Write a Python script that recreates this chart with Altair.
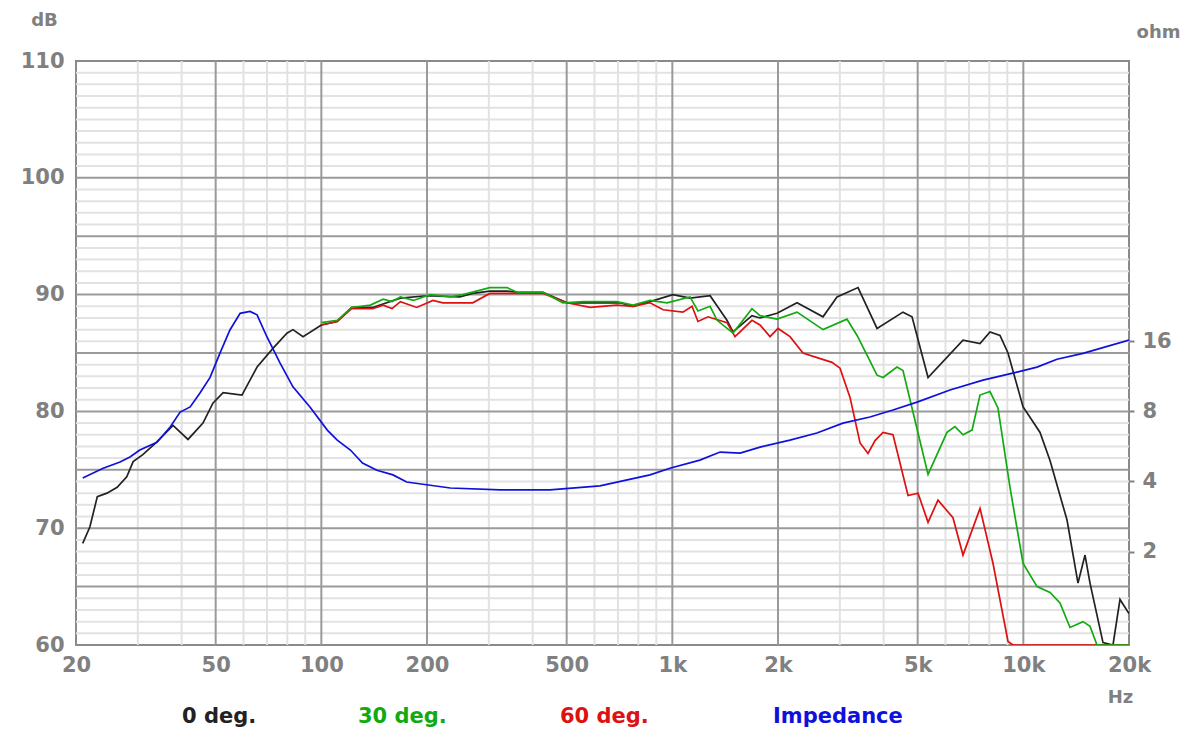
import altair as alt
import pandas as pd

# ---------------- data ----------------
freq0 = [20.9, 21.9, 23.0, 24.5, 26.2, 27.9, 29.1, 31.0, 34.0, 37.8, 41.7, 46.0, 49.1, 52.5, 59.4,
         65.6, 72.8, 79.8, 83.0, 88.7, 100, 111, 122, 140, 168, 200, 248, 270, 302, 338, 361, 428,
         501, 594, 709, 773, 864, 1004, 1123, 1281, 1431, 1489, 1686, 1777, 1987, 2266, 2687, 2946,
         3381, 3830, 4540, 4818, 5352, 6731, 7526, 8035, 8580, 9043, 9977, 11157, 11912, 13318,
         14312, 14986, 15486, 16864, 18006, 18854, 20000]
db0 = [68.7, 70.1, 72.7, 73.0, 73.5, 74.4, 75.7, 76.3, 77.4, 78.8, 77.6, 79.0, 80.7, 81.6, 81.4,
       83.8, 85.4, 86.7, 87.0, 86.4, 87.4, 87.7, 88.9, 88.9, 89.7, 89.9, 89.8, 90.1, 90.3, 90.3, 90.2,
       90.2, 89.3, 89.3, 89.3, 89.0, 89.4, 90.0, 89.7, 89.9, 87.8, 86.8, 88.2, 88.0, 88.4, 89.3, 88.1,
       89.8, 90.6, 87.1, 88.5, 88.1, 82.9, 86.1, 85.8, 86.8, 86.5, 85.0, 80.4, 78.2, 75.8, 70.7,
       65.3, 67.7, 65.3, 60.2, 60.0, 63.9, 62.7]

freq30 = [100, 111, 122, 138, 150, 159, 168, 183, 204, 233, 253, 302, 338, 361, 428, 488, 557, 695,
          773, 864, 966, 1123, 1183, 1281, 1341, 1489, 1686, 1777, 1987, 2266, 2687, 3144, 3360,
          3830, 3984, 4365, 4540, 5352, 6060, 6386, 6731, 7142, 7526, 8035, 8467, 9162, 9977,
          10940, 11912, 12718, 13582, 14790, 15486, 16212, 20000]
db30 = [87.6, 87.8, 88.9, 89.1, 89.6, 89.4, 89.8, 89.5, 90.0, 89.8, 90.0, 90.6, 90.6, 90.2, 90.2,
        89.3, 89.4, 89.4, 89.1, 89.5, 89.3, 89.8, 88.6, 89.0, 87.8, 86.7, 88.8, 88.2, 87.9, 88.5,
        87.0, 87.9, 86.5, 83.1, 82.9, 83.8, 83.5, 74.6, 78.2, 78.7, 78.0, 78.4, 81.4, 81.7, 80.3,
        73.5, 67.0, 65.0, 64.5, 63.6, 61.5, 62.0, 61.6, 60.0, 60.0]

freq60 = [100, 111, 122, 140, 150, 159, 168, 187, 208, 222, 270, 302, 338, 428, 501, 583, 695, 773,
          864, 941, 1072, 1138, 1183, 1264, 1431, 1509, 1686, 1777, 1898, 2000, 2164, 2356, 2584,
          2850, 3004, 3208, 3426, 3610, 3780, 3984, 4253, 4693, 5012, 5352, 5712, 6303, 6731, 7526,
          8194, 9043, 9343, 20000]
db60 = [87.4, 87.7, 88.8, 88.8, 89.1, 88.8, 89.4, 88.9, 89.5, 89.3, 89.3, 90.1, 90.1, 90.1, 89.3,
        88.9, 89.1, 89.0, 89.3, 88.7, 88.5, 89.0, 87.7, 88.1, 87.6, 86.4, 87.8, 87.4, 86.4, 87.1,
        86.4, 85.0, 84.6, 84.2, 83.7, 81.2, 77.3, 76.4, 77.5, 78.2, 78.0, 72.8, 73.0, 70.5, 72.4,
        70.9, 67.7, 71.7, 67.0, 60.3, 60.0, 60.0]

freqZ = [20.9, 23.9, 26.7, 28.5, 30.4, 34.0, 37.1, 39.6, 42.3, 45.1, 48.2, 51.4, 54.9, 58.7, 62.6,
         65.6, 70.0, 76.3, 83.0, 92.8, 104, 111, 121, 131, 144, 160, 175, 233, 323, 448, 622, 864,
         984, 1198, 1368, 1560, 1778, 2163, 2582, 3062, 3656, 4252, 4980, 6180, 7674, 9594, 10940,
         12470, 14790, 20000]
ohmZ = [4.14, 4.56, 4.85, 5.10, 5.46, 5.90, 6.86, 7.95, 8.36, 9.59, 11.2, 14.2, 17.9, 21.1, 21.5,
        20.8, 16.7, 12.9, 10.2, 8.36, 6.65, 6.02, 5.46, 4.80, 4.47, 4.27, 3.98, 3.75, 3.68, 3.68,
        3.83, 4.27, 4.56, 4.94, 5.35, 5.30, 5.62, 6.02, 6.46, 7.12, 7.57, 8.11, 8.77, 9.89, 10.9,
        11.8, 12.4, 13.4, 14.2, 16.2]

series_names = ["0 deg.", "30 deg.", "60 deg.", "Impedance"]

x_ticks = [20, 50, 100, 200, 500, 1000, 2000, 5000, 10000, 20000]
db_ticks = [60, 70, 80, 90, 100, 110]
ohm_ticks = [2, 4, 8, 16]
grid_x_major = [50, 100, 200, 500, 1000, 2000, 5000, 10000]
grid_x_minor = [30, 40, 60, 70, 80, 90, 300, 400, 600, 700, 800, 900,
                3000, 4000, 6000, 7000, 8000, 9000]
grid_y_major = [65, 70, 75, 80, 85, 90, 95, 100]
grid_y_minor = [v for v in range(61, 110) if v not in grid_y_major]

# ---------------- styling ----------------
FONT = "DejaVu Sans"
GRAY = "#808080"
C_BLACK = "#222222"
C_GREEN = "#11aa11"
C_RED = "#dd1111"
C_BLUE = "#1010dd"

axis_common = dict(grid=False, domain=False, labelFont=FONT, labelFontSize=21,
                   labelFontWeight="bold", labelColor=GRAY, titleFont=FONT,
                   titleFontSize=18, titleFontWeight="bold", titleColor=GRAY,
                   titleAngle=0, titleAlign="center", titleBaseline="middle",
                   labelOverlap=False)

x_enc = alt.X("f:Q",
              scale=alt.Scale(type="log", domain=[20, 20000], nice=False),
              axis=alt.Axis(values=x_ticks, ticks=False, labelPadding=9, labelFlush=False,
                            labelExpr="datum.value >= 1000 ? (datum.value/1000) + 'k' : '' + datum.value",
                            title="Hz", titleX=1044, titleY=52, **axis_common))

y_enc = alt.Y("db:Q",
              scale=alt.Scale(domain=[60, 110], nice=False, zero=False),
              axis=alt.Axis(values=db_ticks, ticks=False, labelPadding=12, orient="left",
                            title="dB", titleX=-32, titleY=-41, **axis_common))

z_enc = alt.Y("ohm:Q",
              scale=alt.Scale(type="log", base=2, domain=[0.7937, 256], nice=False),
              axis=alt.Axis(values=ohm_ticks, orient="right", ticks=True, tickSize=5,
                            tickWidth=2, tickColor=GRAY, labelPadding=8,
                            title="ohm", titleX=29, titleY=-29, **axis_common))

# ---------------- grid ----------------
vminor = alt.Chart(pd.DataFrame({"f": grid_x_minor})).mark_rule(
    color="#e2e2e2", strokeWidth=2).encode(x=x_enc)
hminor = alt.Chart(pd.DataFrame({"db": grid_y_minor})).mark_rule(
    color="#e2e2e2", strokeWidth=2).encode(y=y_enc)
vmajor = alt.Chart(pd.DataFrame({"f": grid_x_major})).mark_rule(
    color="#9a9a9a", strokeWidth=2).encode(x=x_enc)
hmajor = alt.Chart(pd.DataFrame({"db": grid_y_major})).mark_rule(
    color="#9a9a9a", strokeWidth=2).encode(y=y_enc)

# ---------------- curves ----------------
def curve(freqs, vals, color):
    df = pd.DataFrame({"f": freqs, "db": vals})
    return alt.Chart(df).mark_line(color=color, strokeWidth=1.7, clip=True).encode(
        x=x_enc, y=y_enc, order="f:Q")

line0 = curve(freq0, db0, C_BLACK)
line60 = curve(freq60, db60, C_RED)
line30 = curve(freq30, db30, C_GREEN)

db_layer = alt.layer(vminor, hminor, vmajor, hmajor, line0, line60, line30)

imp_line = alt.Chart(pd.DataFrame({"f": freqZ, "ohm": ohmZ})).mark_line(
    color=C_BLUE, strokeWidth=1.7, clip=True).encode(x=x_enc, y=z_enc, order="f:Q")

# ---------------- legend (text row under the plot) ----------------
legend_x = [106, 282, 484, 697]
legend_colors = [C_BLACK, C_GREEN, C_RED, C_BLUE]
legend_layers = []
for name, lx, col in zip(series_names, legend_x, legend_colors):
    legend_layers.append(
        alt.Chart(pd.DataFrame({"t": [name]})).mark_text(
            align="left", baseline="middle", font=FONT, fontSize=21,
            fontWeight="bold", color=col).encode(
            x=alt.value(lx), y=alt.value(656), text="t:N"))

chart = alt.layer(db_layer, imp_line, *legend_layers).resolve_scale(
    y="independent"
).properties(
    width=1053, height=584,
    autosize=alt.AutoSizeParams(type="none"),
    padding={"left": 68, "top": 53, "right": 59, "bottom": 85},
).configure_view(stroke="#8a8a8a", strokeWidth=2)

chart.save("out.html", embed_options={"renderer": "svg", "actions": False})
